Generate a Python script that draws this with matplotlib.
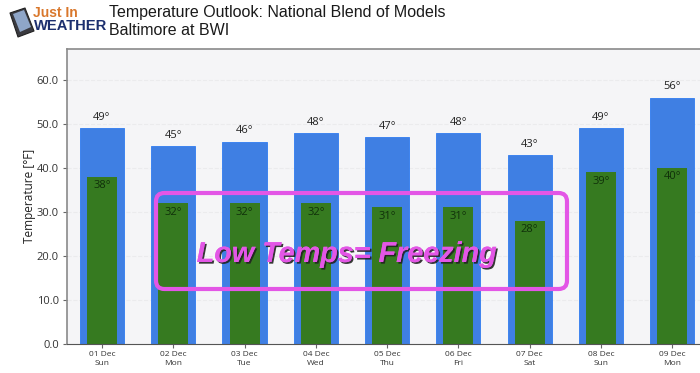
import matplotlib
matplotlib.use('Agg')
import matplotlib.pyplot as plt
import matplotlib.patheffects as pe
from matplotlib.patches import FancyBboxPatch, Polygon

# Valores
dias = ['01 Dec\nSun', '02 Dec\nMon', '03 Dec\nTue', '04 Dec\nWed', '05 Dec\nThu',
        '06 Dec\nFri', '07 Dec\nSat', '08 Dec\nSun', '09 Dec\nMon']
maximas = [49, 45, 46, 48, 47, 48, 43, 49, 56]
minimas = [38, 32, 32, 32, 31, 31, 28, 39, 40]
yticks = [0, 10, 20, 30, 40, 50, 60]

W, H = 700, 373


def fx(x):
    return x / W


def fy(y):
    return 1 - y / H


plt.rcParams['font.family'] = ['Open Sans', 'DejaVu Sans']

fig = plt.figure(figsize=(7, 3.73), dpi=100, facecolor='white')
ax = fig.add_axes([fx(66.5), fy(343.5), fx(700 - 66.5), (343.5 - 49) / H])
ax.set_facecolor('#f5f5f7')

x = range(len(dias))
ax.grid(axis='y', color='#ebebed', linestyle='--', linewidth=0.8)
ax.set_axisbelow(True)
ax.bar(x, maximas, width=0.62, color='#3f7fe3', edgecolor='#2f7bf0', linewidth=0.6)
ax.bar(x, minimas, width=0.42, color='#367a20')

for i in x:
    ax.text(i, maximas[i] + 1.2, f'{maximas[i]}°', ha='center', va='bottom',
            fontsize=8, color='#222222')
    ax.text(i, minimas[i] - 0.8, f'{minimas[i]}°', ha='center', va='top',
            fontsize=8, color='#10300a')

ax.set_xlim(-0.498, 8.39)
ax.set_ylim(0, 67.1)
ax.set_xticks(list(x))
ax.set_xticklabels(dias, fontsize=6, color='#333333', linespacing=1.3)
ax.set_yticks(yticks)
ax.set_yticklabels([f'{v:.1f}' for v in yticks], fontsize=8, color='#333333')
ax.set_ylabel('Temperature [°F]', fontsize=8.5, color='#222222', labelpad=0.5)
ax.tick_params(length=3, width=0.8, color='#666666', pad=2.5)
for s in ['top', 'left']:
    ax.spines[s].set_color('#8a8a8a')
    ax.spines[s].set_linewidth(1.2)
ax.spines['bottom'].set_color('#555555')
ax.spines['right'].set_visible(False)

# Caixa rosa e texto por cima do grafico
box = FancyBboxPatch((fx(156), fy(289)), fx(411), 96 / H,
                     boxstyle='round,pad=0,rounding_size=0.012',
                     transform=fig.transFigure, facecolor='none',
                     edgecolor='#e356e6', linewidth=3, mutation_aspect=1.88, zorder=5)
fig.add_artist(box)
fig.text(fx(347), fy(254), 'Low Temps= Freezing', ha='center', va='center',
         fontsize=20.7, family='Liberation Sans', weight='bold', style='italic',
         color='#e356e6', zorder=6,
         path_effects=[pe.withSimplePatchShadow(offset=(1.2, -1.2), shadow_rgbFace='#222222', alpha=0.9),
                       pe.Normal()])

# Titulo
fig.text(fx(109), fy(12), 'Temperature Outlook: National Blend of Models', fontsize=11.5,
         family='Liberation Sans', color='#1a1a1a', va='center')
fig.text(fx(109), fy(30.5), 'Baltimore at BWI', fontsize=11.5,
         family='Liberation Sans', color='#1a1a1a', va='center')

# Logo
fig.text(fx(33), fy(13), 'Just In', fontsize=10, family='Liberation Sans', weight='bold',
         color='#d9772b', va='center')
fig.text(fx(34), fy(26), 'WEATHER', fontsize=10.6, family='Liberation Sans', weight='bold',
         color='#1c2f6e', va='center')
phone = Polygon([(fx(10), fy(13)), (fx(25), fy(8)), (fx(34), fy(31)), (fx(18), fy(37))],
                closed=True, transform=fig.transFigure, facecolor='#3a3a40',
                edgecolor='#222222', linewidth=0.8, joinstyle='round')
screen = Polygon([(fx(13), fy(14)), (fx(24), fy(10)), (fx(31), fy(27)), (fx(20), fy(32))],
                 closed=True, transform=fig.transFigure, facecolor='#8fa6c8')
fig.add_artist(phone)
fig.add_artist(screen)

fig.savefig('out.png', dpi=100)
